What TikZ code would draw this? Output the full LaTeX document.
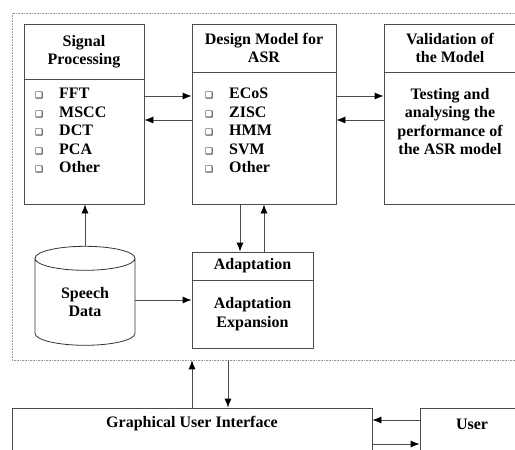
\documentclass[tikz,border=0pt]{standalone}
\usepackage{fontspec}
\setmainfont{Liberation Serif}
\newfontfamily\dingfont{DejaVu Sans}
\usetikzlibrary{shapes.geometric,arrows.meta}
\newcommand{\bul}{{\dingfont\mdseries\fontsize{9}{9}\selectfont\symbol{"2751}}}
\newcommand{\itm}[1]{\makebox[24pt][l]{\bul}#1}
\begin{document}
\begin{tikzpicture}[x=1pt,y=-1pt]
            \tikzstyle{every node}=[font=\fontsize{16}{18.5}\selectfont\bfseries,inner sep=0pt]
            \tikzstyle{box}=[draw=black!70,line width=0.8pt,rectangle,align=center]
            \tikzstyle{arr}=[draw=black!70,line width=0.8pt,-{Latex[length=9pt,width=7pt,color=black]}]
            \path[use as bounding box] (0,0) rectangle (515,450);
            \clip (0,0) rectangle (515,450);
            \draw (276,186.5) node [draw=black!40,densely dotted,line width=0.6pt,minimum width=528pt,minimum height=347pt] (frame) {};
            \draw (84,51.5) node [box,minimum width=120pt,minimum height=55pt] (sph) {Signal\\Processing};
            \draw (84,141.5) node [box,minimum width=120pt,minimum height=125pt] (spb) {};
            \draw (35,88) node [anchor=north west,align=left] (spl) {\itm{FFT}\\\itm{MSCC}\\\itm{DCT}\\\itm{PCA}\\\itm{Other}};
            \draw (264,48) node [box,minimum width=144pt,minimum height=48pt] (dmh) {Design Model for\\ASR};
            \draw (264,138) node [box,minimum width=144pt,minimum height=132pt] (dmb) {};
            \draw (205,88) node [anchor=north west,align=left] (dml) {\itm{ECoS}\\\itm{ZISC}\\\itm{HMM}\\\itm{SVM}\\\itm{Other}};
            \draw (450,48) node [box,minimum width=132pt,minimum height=48pt] (valh) {Validation of\\the Model};
            \draw (450,138) node [box,minimum width=132pt,minimum height=132pt] (valb) {};
            \draw (450,88) node [anchor=north,align=center] (vall) {Testing and\\analysing the\\performance of\\the ASR model};
            \draw (85,302) node [cylinder,shape border rotate=90,draw=black!80,line width=0.8pt,aspect=0.5,minimum width=100pt,minimum height=99pt,align=center] (sd) {Speech\\Data};
            \draw (252.5,266) node [box,minimum width=121pt,minimum height=28pt] (adh) {Adaptation};
            \draw (252.5,314) node [box,minimum width=121pt,minimum height=68pt] (adb) {Adaptation\\Expansion};
            \draw (192,440) node [box,minimum width=360pt,minimum height=64pt] (gui) {};
            \draw (192,424) node (guit) {Graphical User Interface};
            \draw (472,440) node [box,minimum width=104pt,minimum height=64pt] (user) {};
            \draw (472,424) node (usert) {User};
            \draw[arr] (spb.east |- 0,96) -- (dmb.west |- 0,96);
            \draw[arr] (dmb.west |- 0,120) -- (spb.east |- 0,120);
            \draw[arr] (dmb.east |- 0,96) -- (valb.west |- 0,96);
            \draw[arr] (valb.west |- 0,120) -- (dmb.east |- 0,120);
            \draw[arr] (sd.north) -- (sd.north |- spb.south);
            \draw[arr] (sd.east |- 0,300) -- (adb.west |- 0,300);
            \draw[arr] (240,0 |- dmb.south) -- (240,0 |- adh.north);
            \draw[arr] (264,0 |- adh.north) -- (264,0 |- dmb.south);
            \draw[arr] (192,0 |- gui.north) -- (192,0 |- frame.south);
            \draw[arr] (228,0 |- frame.south) -- (228,0 |- gui.north);
            \draw[arr] (user.west |- 0,420) -- (gui.east |- 0,420);
            \draw[arr] (gui.east |- 0,444) -- (user.west |- 0,444);
        \end{tikzpicture}
\end{document}
